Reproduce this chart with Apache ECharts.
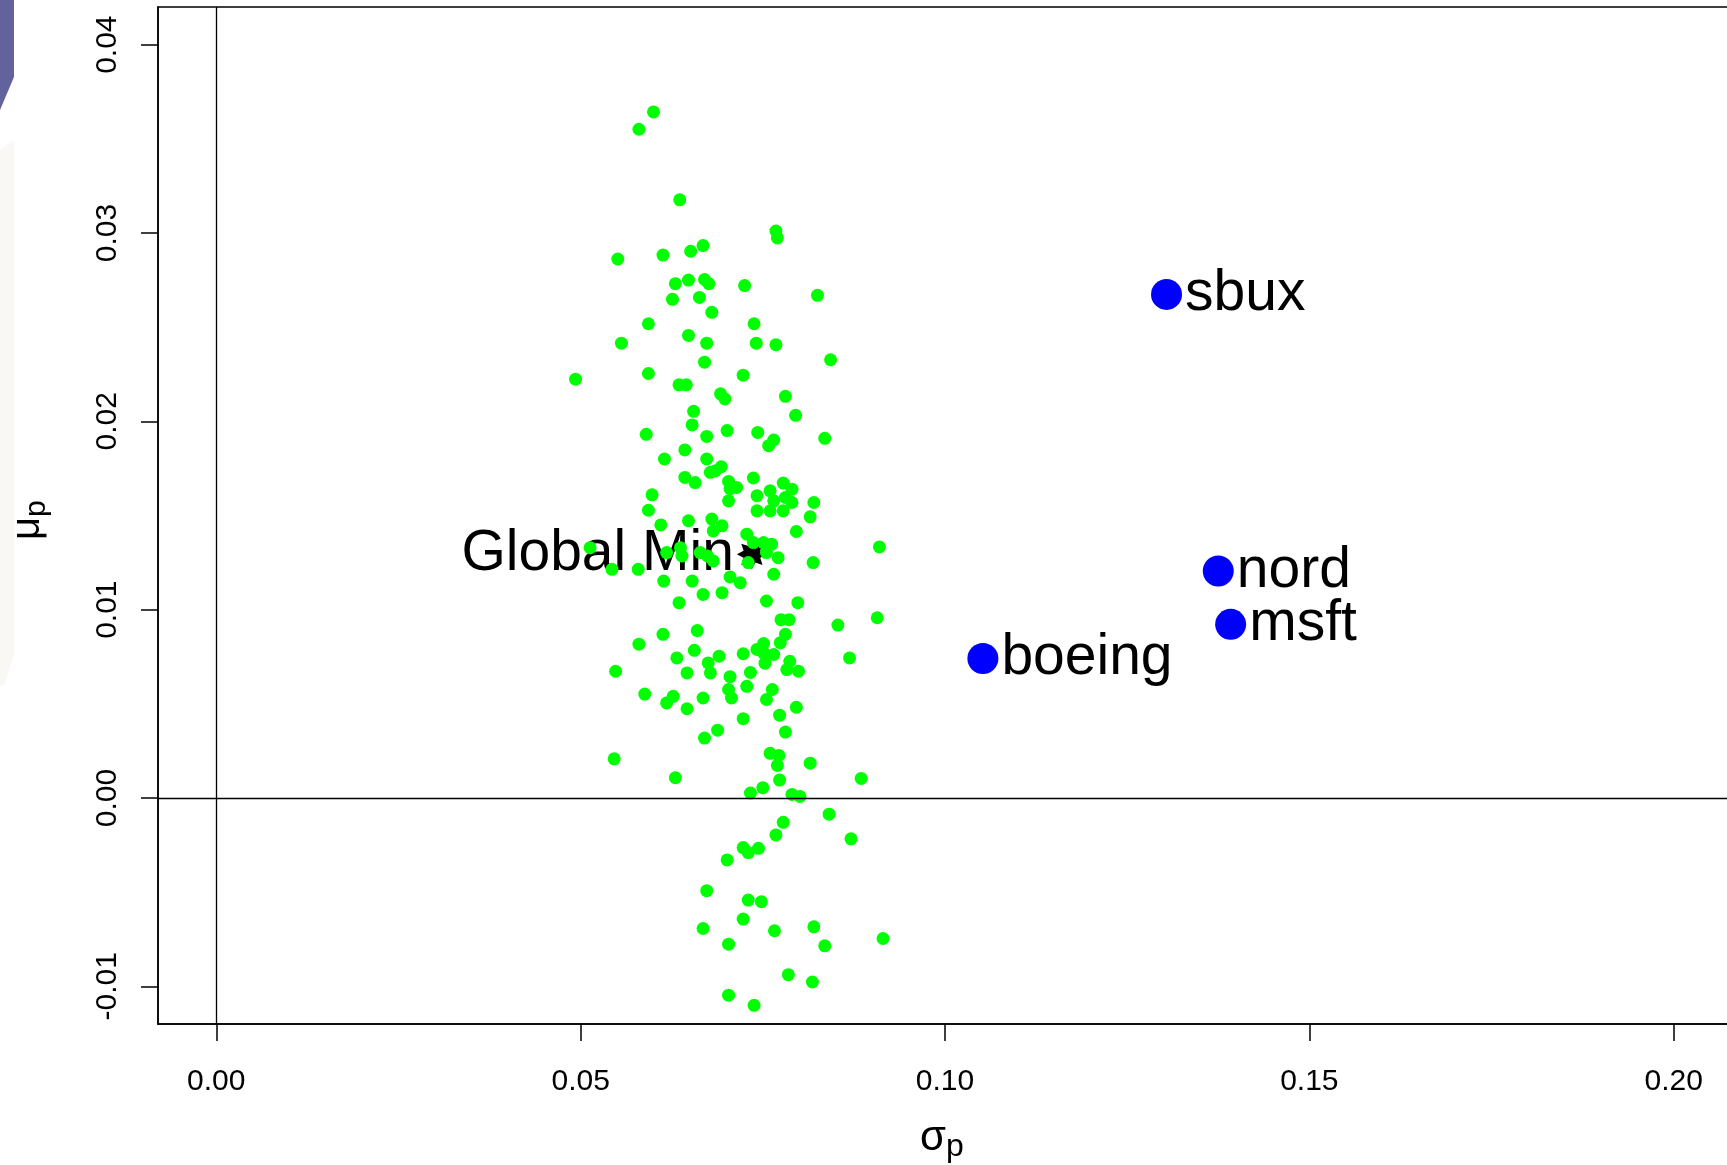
<!DOCTYPE html>
<html><head><meta charset="utf-8">
<script src="https://cdn.jsdelivr.net/npm/echarts@6/dist/echarts.min.js"></script>
<style>html,body{margin:0;padding:0;background:#fff}#c{width:1727px;height:1165px}</style>
</head><body><div id="c"></div>
<script>
// ---- data ----
const xTicks = [0, 0.05, 0.10, 0.15, 0.20];
const yTicks = [-0.01, 0, 0.01, 0.02, 0.03, 0.04];

const assetNames = ['sbux', 'nord', 'msft', 'boeing'];
const assetSigma = [0.1304, 0.1375, 0.1392, 0.1052];
const assetMu    = [0.02674, 0.01205, 0.00922, 0.00741];

const gminName = 'Global Min';
const gminSigma = 0.0735;
const gminMu = 0.01294;

const portSigma = [
  0.0600,0.0580,0.0636,0.0768,0.0770,0.0551,0.0613,0.0651,0.0668,0.0630,
  0.0648,0.0670,0.0676,0.0725,0.0825,0.0626,0.0663,0.0680,0.0593,0.0738,
  0.0556,0.0648,0.0673,0.0741,0.0768,0.0843,0.0670,0.0493,0.0593,0.0723,
  0.0635,0.0645,0.0692,0.0698,0.0781,0.0795,0.0655,0.0653,0.0590,0.0673,
  0.0701,0.0743,0.0765,0.0835,
  0.0758,0.0643,0.0615,0.0673,0.0693,0.0678,0.0685,0.0643,0.0657,0.0703,
  0.0714,0.0705,0.0703,0.0737,0.0778,0.0790,0.0742,0.0760,0.0765,0.0781,
  0.0790,0.0820,0.0742,0.0760,0.0778,0.0815,0.0598,0.0593,0.0610,0.0648,
  0.0680,0.0694,0.0682,0.0728,0.0796,0.0910,0.0513,0.0543,0.0579,0.0618,
  0.0637,0.0639,0.0664,0.0674,0.0682,0.0751,0.0762,0.0755,0.0771,0.0765,
  0.0730,0.0819,0.0737,0.0614,0.0653,0.0705,0.0719,0.0668,0.0694,0.0635,
  0.0755,0.0798,
  0.0775,0.0786,0.0853,0.0907,0.0580,0.0613,0.0660,0.0781,0.0774,0.0751,
  0.0742,0.0751,0.0765,0.0753,0.0656,0.0632,0.0690,0.0723,0.0675,0.0678,
  0.0646,0.0548,0.0705,0.0733,0.0787,0.0783,0.0799,0.0869,0.0703,0.0707,
  0.0728,0.0588,0.0618,0.0627,0.0646,0.0668,0.0763,0.0755,0.0796,0.0773,
  0.0723,0.0781,0.0688,0.0670,0.0546,0.0760,0.0772,0.0770,0.0815,0.0630,
  0.0773,0.0885,0.0733,0.0750,0.0790,0.0801,
  0.0841,0.0778,0.0768,0.0871,0.0723,0.0730,0.0744,0.0701,0.0673,0.0730,
  0.0748,0.0723,0.0668,0.0766,0.0820,0.0703,0.0835,0.0915,0.0785,0.0818,
  0.0703,0.0738
];
const portMu = [
  0.03643,0.03551,0.03176,0.03010,0.02974,0.02862,0.02883,0.02903,0.02933,0.02731,
  0.02750,0.02753,0.02731,0.02721,0.02669,0.02648,0.02658,0.02579,0.02518,0.02518,
  0.02415,0.02456,0.02415,0.02415,0.02407,0.02327,0.02314,0.02224,0.02254,0.02245,
  0.02194,0.02194,0.02146,0.02119,0.02133,0.02032,0.02053,0.01981,0.01931,0.01920,
  0.01951,0.01941,0.01901,0.01910,
  0.01871,0.01848,0.01800,0.01800,0.01759,0.01729,0.01738,0.01702,0.01675,0.01681,
  0.01649,0.01642,0.01578,0.01699,0.01672,0.01640,0.01605,0.01631,0.01578,0.01596,
  0.01569,0.01569,0.01525,0.01525,0.01525,0.01493,0.01610,0.01528,0.01450,0.01472,
  0.01481,0.01445,0.01418,0.01401,0.01415,0.01333,0.01329,0.01214,0.01214,0.01303,
  0.01329,0.01285,0.01303,0.01285,0.01259,0.01356,0.01348,0.01303,0.01276,0.01188,
  0.01250,0.01250,0.01356,0.01152,0.01152,0.01174,0.01143,0.01081,0.01090,0.01037,
  0.01046,0.01037,
  0.00947,0.00947,0.00918,0.00957,0.00817,0.00869,0.00889,0.00869,0.00825,0.00820,
  0.00789,0.00771,0.00762,0.00716,0.00784,0.00744,0.00753,0.00766,0.00717,0.00664,
  0.00664,0.00673,0.00644,0.00667,0.00726,0.00682,0.00673,0.00744,0.00576,0.00531,
  0.00593,0.00552,0.00505,0.00540,0.00474,0.00531,0.00576,0.00523,0.00482,0.00440,
  0.00421,0.00350,0.00360,0.00318,0.00208,0.00237,0.00226,0.00173,0.00185,0.00108,
  0.00095,0.00104,0.00026,0.00055,0.00019,0.00008,
  -0.00086,-0.00129,-0.00196,-0.00217,-0.00263,-0.00290,-0.00267,-0.00329,-0.00492,-0.00542,
  -0.00551,-0.00643,-0.00693,-0.00705,-0.00684,-0.00776,-0.00785,-0.00746,-0.00938,-0.00977,
  -0.01047,-0.01101
];

// ---- chart ----
const FONT = '"Liberation Sans", Arial, sans-serif';

// 8-pointed star symbol
function starPath() {
  let d = '';
  for (let k = 0; k < 16; k++) {
    const a = k * Math.PI / 8 - Math.PI / 2;
    const r = (k % 2 === 0) ? 50 : 30;
    const px = (50 + r * Math.cos(a)).toFixed(2), py = (50 + r * Math.sin(a)).toFixed(2);
    d += (k === 0 ? 'M' : 'L') + px + ' ' + py + ' ';
  }
  return 'path://' + d + 'Z';
}

const chart = echarts.init(document.getElementById('c'), null, {renderer: 'canvas'});
const fmt = v => v.toFixed(2);

chart.setOption({
  backgroundColor: '#ffffff',
  animation: false,
  grid: {
    left: 158, top: 7, right: -5, bottom: 141,
    outerBoundsMode: 'none', containLabel: false,
    show: true, borderColor: '#000', borderWidth: 1.5, backgroundColor: 'transparent'
  },
  xAxis: {
    type: 'value', min: -0.008, max: 0.208,
    axisLine: {show: true, onZero: false, lineStyle: {color: '#000', width: 1.5}},
    axisTick: {show: true, customValues: xTicks, length: 17, inside: false, lineStyle: {color: '#000', width: 1.5}},
    axisLabel: {show: true, customValues: xTicks, formatter: fmt, fontSize: 30, fontFamily: FONT, color: '#000', margin: 43},
    splitLine: {show: false}
  },
  yAxis: {
    type: 'value', min: -0.012, max: 0.042,
    axisLine: {show: true, onZero: false, lineStyle: {color: '#000', width: 1.5}},
    axisTick: {show: true, customValues: yTicks, length: 17, inside: false, lineStyle: {color: '#000', width: 1.5}},
    axisLabel: {show: true, customValues: yTicks, formatter: fmt, rotate: 90, fontSize: 30, fontFamily: FONT, color: '#000', margin: 35},
    splitLine: {show: false}
  },
  graphic: [
    {type: 'polygon', z: -10, shape: {points: [[0,0],[14,0],[14,77],[0,110]]}, style: {fill: '#62629c'}},
    {type: 'polygon', z: -10, shape: {points: [[0,150],[14,140],[14,655],[4,685],[0,685]]}, style: {fill: '#f9f8f4'}},
    // x axis title sigma_p
    {type: 'text', z: 10, x: 920, y: 1138, style: {text: 'σ', font: '42px ' + FONT, fill: '#000', verticalAlign: 'middle'}},
    {type: 'text', z: 10, x: 946, y: 1147, style: {text: 'p', font: '32px ' + FONT, fill: '#000', verticalAlign: 'middle'}},
    // y axis title mu_p (rotated)
    {type: 'group', z: 10, x: 28, y: 540, rotation: Math.PI / 2, children: [
      {type: 'text', x: 0, y: 0, style: {text: 'μ', font: '40px ' + FONT, fill: '#000', verticalAlign: 'middle'}},
      {type: 'text', x: 23, y: 9, style: {text: 'p', font: '30px ' + FONT, fill: '#000', verticalAlign: 'middle'}}
    ]}
  ],
  series: [
    {
      type: 'scatter', z: 2, silent: true,
      symbol: starPath(), symbolSize: 30,
      itemStyle: {color: '#000', opacity: 1},
      data: [{name: gminName, value: [gminSigma, gminMu]}],
      label: {show: true, position: 'left', distance: 3, formatter: '{b}', fontSize: 57, fontFamily: FONT, color: '#000'},
      markLine: {
        silent: true, symbol: 'none', animation: false,
        label: {show: false},
        lineStyle: {color: '#000', width: 1.3, type: 'solid', opacity: 1},
        data: [{xAxis: 0}, {yAxis: 0}]
      }
    },
    {
      type: 'scatter', z: 3, silent: true,
      symbol: 'circle', symbolSize: 13,
      itemStyle: {color: '#00ff00', opacity: 1},
      data: portSigma.map((s, i) => [s, portMu[i]])
    },
    {
      type: 'scatter', z: 4, silent: true,
      symbol: 'circle', symbolSize: 31,
      itemStyle: {color: '#0000ff', opacity: 1},
      data: assetNames.map((n, i) => ({name: n, value: [assetSigma[i], assetMu[i]]})),
      label: {show: true, position: 'right', distance: 3, formatter: '{b}', fontSize: 57, fontFamily: FONT, color: '#000'}
    }
  ]
});
</script>
</body></html>
